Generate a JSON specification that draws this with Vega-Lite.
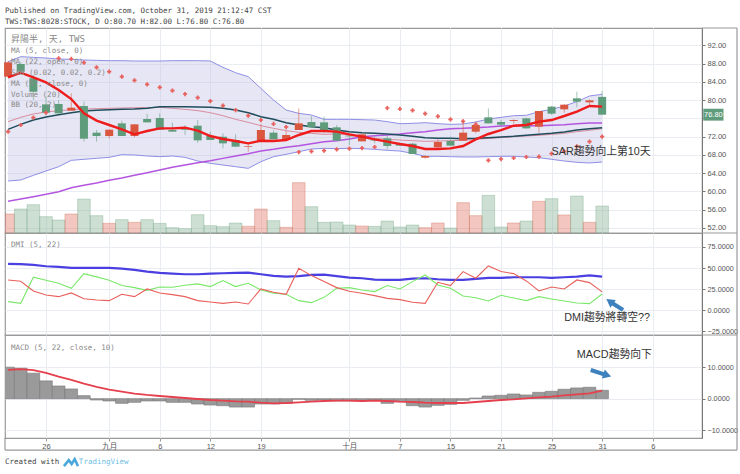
{"$schema":"https://vega.github.io/schema/vega-lite/v6.json","background":"white","padding":{"left":2,"top":7,"right":0,"bottom":0},"config":{"view":{"stroke":"#999999","strokeWidth":1.2}},
"title":{"text":["Published on TradingView.com, October 31, 2019 21:12:47 CST","TWS:TWS:8028:STOCK, D O:80.70 H:82.00 L:76.80 C:76.80"],"anchor":"start","font":"DejaVu Sans Mono","fontSize":7.5,"fontWeight":"normal","color":"#444444","lineHeight":11,"offset":1,"frame":"group"},
"datasets":{"bars":[
{"i":0,"o":85.13,"h":88.6,"l":84.8,"c":88.27,"vol":57,"ma5":84.98,"ma22":73.59,"bbb":75.27,"ma57":57.82,"bbu":88.41,"bbl":62.27,"sar":73.08,"adx":54.99,"pdi":36.0,"mdi":10.3,"hist":10.0,"sig":9.15},
{"i":1,"o":87.9,"h":88.4,"l":85.6,"c":86.22,"vol":72,"ma5":86.0,"ma22":74.68,"bbb":76.22,"ma57":58.33,"bbu":89.51,"bbl":62.49,"sar":74.54,"adx":54.6,"pdi":34.4,"mdi":8.3,"hist":9.68,"sig":9.36},
{"i":2,"o":84.76,"h":85.49,"l":80.01,"c":81.84,"vol":85,"ma5":84.98,"ma22":75.63,"bbb":76.95,"ma57":58.84,"bbu":89.36,"bbl":63.51,"sar":76.14,"adx":53.8,"pdi":22.9,"mdi":39.2,"hist":8.09,"sig":9.04},
{"i":3,"o":79.06,"h":80.74,"l":76.73,"c":77.24,"vol":49,"ma5":83.88,"ma22":76.29,"bbb":77.39,"ma57":59.35,"bbu":89.21,"bbl":64.46,"sar":77.24,"adx":52.2,"pdi":18.2,"mdi":35.6,"hist":5.64,"sig":8.19},
{"i":4,"o":79.14,"h":80.01,"l":77.09,"c":77.09,"vol":39,"ma5":82.2,"ma22":76.8,"bbb":77.68,"ma57":59.93,"bbu":89.0,"bbl":65.41,"sar":89.14,"adx":51.4,"pdi":16.2,"mdi":32.0,"hist":4.04,"sig":7.02},
{"i":5,"o":77.68,"h":81.47,"l":77.68,"c":78.33,"vol":57,"ma5":80.23,"ma22":77.24,"bbb":77.9,"ma57":60.81,"bbu":88.92,"bbl":66.8,"sar":89.0,"adx":50.2,"pdi":20.6,"mdi":26.1,"hist":3.09,"sig":5.96},
{"i":6,"o":78.7,"h":79.65,"l":70.89,"c":71.54,"vol":102,"ma5":77.09,"ma22":77.6,"bbb":78.04,"ma57":61.32,"bbu":88.78,"bbl":67.02,"sar":88.19,"adx":50.2,"pdi":13.8,"mdi":43.5,"hist":0.96,"sig":4.79},
{"i":7,"o":72.86,"h":73.44,"l":70.89,"c":72.13,"vol":52,"ma5":75.49,"ma22":77.75,"bbb":78.12,"ma57":61.83,"bbu":88.7,"bbl":67.24,"sar":87.17,"adx":50.2,"pdi":12.3,"mdi":39.6,"hist":-0.43,"sig":3.72},
{"i":8,"o":72.13,"h":73.59,"l":71.62,"c":73.51,"vol":29,"ma5":74.54,"ma22":77.9,"bbb":78.19,"ma57":62.42,"bbu":88.63,"bbl":67.45,"sar":86.22,"adx":50.2,"pdi":11.5,"mdi":35.6,"hist":-0.74,"sig":2.87},
{"i":9,"o":74.9,"h":75.49,"l":72.13,"c":72.13,"vol":40,"ma5":73.59,"ma22":77.97,"bbb":78.26,"ma57":62.93,"bbu":88.63,"bbl":68.04,"sar":85.13,"adx":49.45,"pdi":19.0,"mdi":29.3,"hist":-1.49,"sig":2.23},
{"i":10,"o":72.13,"h":74.76,"l":71.84,"c":74.68,"vol":32,"ma5":72.49,"ma22":78.04,"bbb":78.34,"ma57":63.51,"bbu":88.56,"bbl":67.97,"sar":84.32,"adx":47.9,"pdi":16.2,"mdi":26.9,"hist":-1.17,"sig":1.6},
{"i":11,"o":75.85,"h":76.95,"l":75.12,"c":75.12,"vol":40,"ma5":73.22,"ma22":78.19,"bbb":78.34,"ma57":64.1,"bbu":88.56,"bbl":67.75,"sar":83.45,"adx":45.9,"pdi":25.3,"mdi":23.7,"hist":-0.74,"sig":1.17},
{"i":12,"o":76.07,"h":77.09,"l":73.51,"c":73.51,"vol":29,"ma5":73.81,"ma22":78.55,"bbb":78.41,"ma57":64.68,"bbu":88.56,"bbl":67.6,"sar":82.79,"adx":44.3,"pdi":20.6,"mdi":27.7,"hist":-0.74,"sig":0.85},
{"i":13,"o":73.44,"h":75.05,"l":73.08,"c":73.08,"vol":16,"ma5":73.81,"ma22":78.55,"bbb":78.19,"ma57":65.26,"bbu":88.63,"bbl":67.75,"sar":82.06,"adx":43.5,"pdi":18.6,"mdi":27.3,"hist":-1.17,"sig":0.53},
{"i":14,"o":73.65,"h":74.54,"l":72.35,"c":73.5,"vol":13,"ma5":73.95,"ma22":78.55,"bbb":77.97,"ma57":65.77,"bbu":88.63,"bbl":67.45,"sar":81.33,"adx":42.7,"pdi":16.2,"mdi":29.7,"hist":-1.17,"sig":0.21},
{"i":15,"o":74.39,"h":75.63,"l":70.67,"c":71.18,"vol":55,"ma5":73.3,"ma22":78.48,"bbb":77.68,"ma57":66.28,"bbu":88.63,"bbl":66.65,"sar":80.53,"adx":42.7,"pdi":11.5,"mdi":31.3,"hist":-1.7,"sig":-0.11},
{"i":16,"o":72.13,"h":73.08,"l":71.25,"c":71.25,"vol":22,"ma5":72.13,"ma22":78.41,"bbb":77.24,"ma57":66.72,"bbu":88.56,"bbl":66.14,"sar":79.79,"adx":43.5,"pdi":9.9,"mdi":28.1,"hist":-2.02,"sig":-0.43},
{"i":17,"o":71.98,"h":72.71,"l":69.43,"c":70.52,"vol":19,"ma5":71.47,"ma22":78.19,"bbb":76.58,"ma57":67.23,"bbu":87.17,"bbl":65.77,"sar":78.77,"adx":43.9,"pdi":8.3,"mdi":35.2,"hist":-2.23,"sig":-0.64},
{"i":18,"o":71.25,"h":72.49,"l":69.79,"c":69.79,"vol":30,"ma5":71.03,"ma22":77.82,"bbb":75.78,"ma57":67.75,"bbu":86.0,"bbl":65.41,"sar":77.82,"adx":44.3,"pdi":9.9,"mdi":28.1,"hist":-2.66,"sig":-0.85},
{"i":19,"o":69.79,"h":70.67,"l":68.7,"c":69.94,"vol":20,"ma5":70.52,"ma22":77.24,"bbb":75.12,"ma57":68.26,"bbu":85.13,"bbl":65.04,"sar":76.58,"adx":44.7,"pdi":7.5,"mdi":32.0,"hist":-2.66,"sig":-0.96},
{"i":20,"o":70.89,"h":74.76,"l":70.89,"c":73.44,"vol":72,"ma5":71.1,"ma22":76.36,"bbb":74.39,"ma57":68.84,"bbu":82.57,"bbl":66.5,"sar":75.63,"adx":42.7,"pdi":25.3,"mdi":24.1,"hist":-1.7,"sig":-1.28},
{"i":21,"o":72.86,"h":73.4,"l":71.4,"c":71.4,"vol":37,"ma5":71.03,"ma22":75.78,"bbb":73.81,"ma57":69.21,"bbu":80.01,"bbl":67.6,"sar":74.76,"adx":40.7,"pdi":21.4,"mdi":20.2,"hist":-1.7,"sig":-1.49},
{"i":22,"o":71.25,"h":73.22,"l":71.25,"c":72.35,"vol":17,"ma5":71.25,"ma22":75.05,"bbb":73.3,"ma57":69.65,"bbu":77.82,"bbl":68.11,"sar":74.1,"adx":40.0,"pdi":19.0,"mdi":19.0,"hist":-1.49,"sig":-1.38},
{"i":23,"o":73.44,"h":78.19,"l":73.44,"c":74.9,"vol":151,"ma5":72.35,"ma22":74.54,"bbb":72.93,"ma57":70.01,"bbu":77.09,"bbl":68.7,"sar":68.62,"adx":40.4,"pdi":49.8,"mdi":11.5,"hist":-0.21,"sig":-1.17},
{"i":24,"o":75.19,"h":76.51,"l":74.03,"c":74.03,"vol":79,"ma5":73.22,"ma22":74.17,"bbb":72.71,"ma57":70.45,"bbu":76.73,"bbl":69.28,"sar":68.77,"adx":41.9,"pdi":41.1,"mdi":9.1,"hist":-0.53,"sig":-0.96},
{"i":25,"o":75.12,"h":76.36,"l":72.7,"c":73.22,"vol":32,"ma5":73.22,"ma22":73.95,"bbb":72.49,"ma57":70.89,"bbu":75.78,"bbl":69.43,"sar":68.91,"adx":42.3,"pdi":34.0,"mdi":15.4,"hist":-0.43,"sig":-0.74},
{"i":26,"o":74.03,"h":74.54,"l":71.11,"c":71.11,"vol":33,"ma5":73.08,"ma22":73.44,"bbb":72.57,"ma57":71.11,"bbu":75.78,"bbl":69.36,"sar":69.21,"adx":40.4,"pdi":26.9,"mdi":26.1,"hist":-0.74,"sig":-0.64},
{"i":27,"o":72.2,"h":72.71,"l":70.16,"c":72.05,"vol":24,"ma5":72.49,"ma22":73.08,"bbb":72.35,"ma57":71.47,"bbu":75.78,"bbl":69.43,"sar":69.35,"adx":38.8,"pdi":22.5,"mdi":26.9,"hist":-0.74,"sig":-0.64},
{"i":28,"o":70.96,"h":72.7,"l":70.96,"c":72.49,"vol":21,"ma5":71.98,"ma22":72.86,"bbb":71.98,"ma57":71.98,"bbu":75.71,"bbl":69.36,"sar":69.5,"adx":38.0,"pdi":20.2,"mdi":24.1,"hist":-0.74,"sig":-0.74},
{"i":29,"o":71.35,"h":72.0,"l":70.52,"c":71.15,"vol":20,"ma5":71.4,"ma22":72.71,"bbb":71.62,"ma57":72.2,"bbu":75.63,"bbl":69.21,"sar":69.72,"adx":36.4,"pdi":17.4,"mdi":22.2,"hist":-0.43,"sig":-0.64},
{"i":30,"o":71.62,"h":72.13,"l":69.21,"c":69.94,"vol":36,"ma5":70.89,"ma22":72.57,"bbb":71.4,"ma57":72.35,"bbu":75.27,"bbl":68.99,"sar":78.26,"adx":36.0,"pdi":14.2,"mdi":29.3,"hist":-1.49,"sig":-0.74},
{"i":31,"o":70.38,"h":70.7,"l":70.01,"c":70.01,"vol":18,"ma5":70.38,"ma22":72.35,"bbb":71.25,"ma57":72.57,"bbu":74.83,"bbl":68.84,"sar":78.05,"adx":36.0,"pdi":12.7,"mdi":25.3,"hist":-0.96,"sig":-0.96},
{"i":32,"o":70.45,"h":70.67,"l":68.19,"c":68.19,"vol":24,"ma5":69.94,"ma22":72.06,"bbb":71.11,"ma57":72.86,"bbu":74.9,"bbl":68.33,"sar":77.75,"adx":37.6,"pdi":9.5,"mdi":34.0,"hist":-2.23,"sig":-1.06},
{"i":33,"o":67.38,"h":67.97,"l":67.16,"c":67.75,"vol":16,"ma5":69.28,"ma22":71.77,"bbb":70.96,"ma57":73.08,"bbu":75.05,"bbl":67.68,"sar":77.02,"adx":38.0,"pdi":8.3,"mdi":41.9,"hist":-2.66,"sig":-1.28},
{"i":34,"o":69.65,"h":71.4,"l":69.06,"c":70.81,"vol":30,"ma5":69.28,"ma22":71.62,"bbb":71.03,"ma57":73.44,"bbu":74.83,"bbl":67.68,"sar":76.44,"adx":36.8,"pdi":33.2,"mdi":30.1,"hist":-2.13,"sig":-1.38},
{"i":35,"o":71.03,"h":72.0,"l":70.01,"c":70.01,"vol":15,"ma5":69.43,"ma22":71.62,"bbb":71.11,"ma57":73.74,"bbu":74.68,"bbl":67.6,"sar":75.78,"adx":36.0,"pdi":29.3,"mdi":26.1,"hist":-1.81,"sig":-1.38},
{"i":36,"o":71.11,"h":75.78,"l":71.11,"c":72.86,"vol":91,"ma5":69.94,"ma22":71.55,"bbb":71.18,"ma57":73.81,"bbu":74.76,"bbl":67.53,"sar":75.34,"adx":36.0,"pdi":45.9,"mdi":17.0,"hist":-0.53,"sig":-1.38},
{"i":37,"o":73.08,"h":75.27,"l":72.71,"c":74.54,"vol":52,"ma5":71.4,"ma22":71.62,"bbb":71.4,"ma57":73.96,"bbu":75.2,"bbl":67.53,"sar":74.68,"adx":37.2,"pdi":38.0,"mdi":15.0,"hist":0.21,"sig":-1.06},
{"i":38,"o":76.22,"h":78.19,"l":74.9,"c":74.9,"vol":113,"ma5":72.57,"ma22":71.77,"bbb":71.62,"ma57":74.1,"bbu":75.85,"bbl":67.6,"sar":66.8,"adx":38.4,"pdi":52.6,"mdi":11.1,"hist":0.85,"sig":-0.74},
{"i":39,"o":75.2,"h":75.63,"l":74.17,"c":74.61,"vol":18,"ma5":73.44,"ma22":71.91,"bbb":71.77,"ma57":74.32,"bbu":76.22,"bbl":67.68,"sar":67.09,"adx":38.4,"pdi":45.9,"mdi":17.8,"hist":1.06,"sig":-0.43},
{"i":40,"o":75.42,"h":75.78,"l":74.9,"c":75.63,"vol":30,"ma5":74.39,"ma22":72.06,"bbb":71.98,"ma57":74.39,"bbu":76.58,"bbl":67.68,"sar":67.31,"adx":39.2,"pdi":43.5,"mdi":14.6,"hist":1.49,"sig":-0.21},
{"i":41,"o":76.0,"h":76.15,"l":73.66,"c":73.81,"vol":36,"ma5":74.54,"ma22":72.28,"bbb":72.13,"ma57":74.39,"bbu":76.66,"bbl":67.53,"sar":67.53,"adx":39.2,"pdi":34.8,"mdi":11.5,"hist":1.17,"sig":0.11},
{"i":42,"o":74.17,"h":77.6,"l":72.86,"c":77.6,"vol":95,"ma5":75.27,"ma22":72.49,"bbb":72.28,"ma57":74.39,"bbu":77.46,"bbl":67.38,"sar":67.6,"adx":39.2,"pdi":22.9,"mdi":16.2,"hist":2.02,"sig":0.43},
{"i":43,"o":78.56,"h":78.7,"l":76.73,"c":77.02,"vol":103,"ma5":75.63,"ma22":72.71,"bbb":72.49,"ma57":74.47,"bbu":77.97,"bbl":67.02,"sar":68.26,"adx":38.4,"pdi":27.7,"mdi":13.5,"hist":2.34,"sig":0.64},
{"i":44,"o":77.97,"h":79.14,"l":77.24,"c":78.99,"vol":54,"ma5":76.51,"ma22":73.0,"bbb":72.71,"ma57":74.61,"bbu":78.7,"bbl":66.65,"sar":68.77,"adx":39.2,"pdi":25.3,"mdi":11.1,"hist":2.98,"sig":1.06},
{"i":45,"o":80.38,"h":81.84,"l":78.41,"c":79.65,"vol":111,"ma5":77.46,"ma22":73.44,"bbb":73.08,"ma57":74.83,"bbu":79.65,"bbl":66.36,"sar":69.87,"adx":40.0,"pdi":36.0,"mdi":8.7,"hist":3.4,"sig":1.38},
{"i":46,"o":79.5,"h":80.16,"l":78.7,"c":79.94,"vol":32,"ma5":78.7,"ma22":73.74,"bbb":73.37,"ma57":74.98,"bbu":80.89,"bbl":66.22,"sar":70.89,"adx":41.5,"pdi":32.8,"mdi":7.9,"hist":3.62,"sig":1.7},
{"i":47,"o":80.7,"h":82.0,"l":76.8,"c":76.8,"vol":81,"ma5":78.56,"ma22":73.96,"bbb":73.74,"ma57":74.98,"bbu":81.26,"bbl":66.43,"sar":71.98,"adx":40.0,"pdi":21.8,"mdi":19.4,"hist":2.66,"sig":2.55}
],
"mainLabels":[{"i":0.23,"v":90.75,"t":"MA (5, close, 0)"},{"i":0.23,"v":88.34,"t":"MA (22, open, 0)"},{"i":0.23,"v":85.93,"t":"SAR (0.02, 0.02, 0.2)"},{"i":0.23,"v":83.5,"t":"MA (57, close, 0)"},{"i":0.23,"v":81.1,"t":"Volume (20)"},{"i":0.23,"v":78.9,"t":"BB (20, 2)"}],
"mainFrame":[{"i":54.9,"i2":57.67,"v":95.79,"v2":95.79},{"i":54.9,"i2":57.67,"v":50.88,"v2":50.88},{"i":57.67,"i2":57.67,"v":95.79,"v2":50.88}],
"dmiFrame":[{"i":54.9,"i2":57.67,"v":-29.2,"v2":-29.2},{"i":57.67,"i2":57.67,"v":91.56,"v2":-29.2}],
"macdFrame":[{"i":57.67,"i2":57.67,"v":20.2,"v2":-16.3},{"i":-0.244,"i2":57.67,"v":-16.3,"v2":-16.3},{"i":-0.244,"i2":-0.244,"v":-12.48,"v2":-16.3}]},
"bounds":"flush","spacing":0,
"vconcat":[
{"width":697,"height":205,
"encoding":{"x":{"field":"i","type":"quantitative","scale":{"domain":[-0.244,54.9],"nice":false,"zero":false,"padding":0},"axis":{"values":[3,8,12,16,20,27,31,35,39,43,47,51],"labels":false,"ticks":false,"domain":false,"title":null,"grid":true,"gridColor":"#e9edf2"}}},
"layer":[
{"data":{"name":"bars"},"mark":{"type":"bar","orient":"vertical","size":12.6,"clip":true,"fillOpacity":0.4,"strokeWidth":0.7,"strokeOpacity":0.55},"encoding":{"y":{"field":"vol","type":"quantitative","scale":{"domain":[0,615],"nice":false,"zero":true},"axis":null},"fill":{"condition":{"test":"datum.c>=datum.o","value":"#e0705f"},"value":"#7fb08f"},"stroke":{"condition":{"test":"datum.c>=datum.o","value":"#d0705f"},"value":"#7fa88f"}}},
{"layer":[
{"data":{"name":"bars"},"mark":{"type":"area","color":"#c4c4e4","opacity":0.42},"encoding":{"y":{"field":"bbu","type":"quantitative","scale":{"domain":[50.88,95.79],"nice":false,"zero":false},"axis":{"orient":"right","values":[52,56,60,64,68,72,76,80,84,88,92],"tickCount":20,"labelExpr":"datum.value==76?'':format(datum.value,'.2f')","title":null,"grid":true,"gridColor":"#e9edf2","domainColor":"#777777","tickColor":"#777777","tickSize":3,"labelFont":"Liberation Sans","labelFontSize":7.5,"labelColor":"#555555","labelPadding":2}},"y2":{"field":"bbl"}}},
{"data":{"name":"bars"},"mark":{"type":"line","color":"#8f8fe6","strokeWidth":1},"encoding":{"y":{"field":"bbu","type":"quantitative","axis":{"title":null}}}},
{"data":{"name":"bars"},"mark":{"type":"line","color":"#8f8fe6","strokeWidth":1},"encoding":{"y":{"field":"bbl","type":"quantitative","axis":{"title":null}}}},
{"data":{"name":"bars"},"mark":{"type":"line","color":"#d98d9e","strokeWidth":1},"encoding":{"y":{"field":"bbb","type":"quantitative","axis":{"title":null}}}},
{"data":{"name":"bars"},"mark":{"type":"line","color":"#b455e0","strokeWidth":1.5},"encoding":{"y":{"field":"ma57","type":"quantitative","axis":{"title":null}}}},
{"data":{"name":"bars"},"mark":{"type":"line","color":"#1f4d5c","strokeWidth":1.5},"encoding":{"y":{"field":"ma22","type":"quantitative","axis":{"title":null}}}},
{"data":{"name":"bars"},"mark":{"type":"rule","strokeWidth":0.8,"opacity":0.7},"encoding":{"y":{"field":"h","type":"quantitative","axis":{"title":null}},"y2":{"field":"l"},"color":{"condition":{"test":"datum.c>=datum.o","value":"#d9573f"},"value":"#5f9c7c"}}},
{"data":{"name":"bars"},"mark":{"type":"bar","orient":"vertical","size":8},"encoding":{"y":{"field":"o","type":"quantitative","axis":{"title":null}},"y2":{"field":"c"},"color":{"condition":{"test":"datum.c>=datum.o","value":"#d9573f"},"value":"#5f9c7c"}}},
{"data":{"name":"bars"},"mark":{"type":"line","color":"#ee1c1c","strokeWidth":2.4},"encoding":{"y":{"field":"ma5","type":"quantitative","axis":{"title":null}}}},
{"data":{"name":"bars"},"mark":{"type":"point","shape":"cross","filled":true,"size":18,"color":"#e8605c","opacity":1},"encoding":{"y":{"field":"sar","type":"quantitative","axis":{"title":null}}}},
{"data":{"values":[{"i":0.23,"v":93.3,"t":"昇陽半, 天, TWS"}]},"mark":{"type":"text","align":"left","baseline":"middle","font":"DejaVu Sans Mono, Noto Sans CJK TC","fontSize":9,"color":"#8a8a8a"},"encoding":{"y":{"field":"v","type":"quantitative","axis":{"title":null}},"text":{"field":"t"}}},
{"data":{"name":"mainLabels"},"mark":{"type":"text","align":"left","baseline":"middle","font":"DejaVu Sans Mono","fontSize":7.5,"color":"#8a8a8a"},"encoding":{"y":{"field":"v","type":"quantitative","axis":{"title":null}},"text":{"field":"t"}}},
{"data":{"values":[{"i":43,"v":68.7,"t":"SAR趨勢向上第10天"}]},"mark":{"type":"text","align":"left","baseline":"middle","font":"Liberation Sans, Noto Sans CJK TC","fontSize":10.8,"color":"#333333"},"encoding":{"y":{"field":"v","type":"quantitative","axis":{"title":null}},"text":{"field":"t"}}},
{"data":{"values":[{"i":55.0,"i2":56.6,"v":78.1,"v2":75.5}]},"mark":{"type":"rect","color":"#5f9c7c"},"encoding":{"x2":{"field":"i2"},"y":{"field":"v","type":"quantitative","axis":{"title":null}},"y2":{"field":"v2"}}},
{"data":{"values":[{"i":55.8,"v":76.8,"t":"76.80"}]},"mark":{"type":"text","align":"center","baseline":"middle","font":"Liberation Sans","fontSize":7.5,"color":"#ffffff"},"encoding":{"y":{"field":"v","type":"quantitative","axis":{"title":null}},"text":{"field":"t"}}}
]},
{"data":{"name":"mainFrame"},"mark":{"type":"rule","color":"#999999","strokeWidth":1.2},"encoding":{"x2":{"field":"i2"},"y":{"field":"v","type":"quantitative","scale":{"domain":[50.88,95.79],"nice":false,"zero":false},"axis":null},"y2":{"field":"v2"}}}
],"resolve":{"scale":{"y":"independent"}}},
{"width":697,"height":102,
"encoding":{"x":{"field":"i","type":"quantitative","scale":{"domain":[-0.244,54.9],"nice":false,"zero":false,"padding":0},"axis":{"values":[3,8,12,16,20,27,31,35,39,43,47,51],"labels":false,"ticks":false,"domain":false,"title":null,"grid":true,"gridColor":"#e9edf2"}}},
"layer":[
{"data":{"name":"bars"},"mark":{"type":"line","color":"#4a3fe0","strokeWidth":2.2},"encoding":{"y":{"field":"adx","type":"quantitative","scale":{"domain":[-29.2,91.56],"nice":false,"zero":false},"axis":{"orient":"right","values":[-25,0,25,50,75],"tickCount":20,"format":".4f","title":null,"grid":true,"gridColor":"#e9edf2","domainColor":"#777777","tickColor":"#777777","tickSize":3,"labelFont":"Liberation Sans","labelFontSize":7.3,"labelColor":"#555555","labelPadding":2}}}},
{"data":{"name":"bars"},"mark":{"type":"line","color":"#7be86a","strokeWidth":1.1},"encoding":{"y":{"field":"mdi","type":"quantitative","axis":{"title":null}}}},
{"data":{"name":"bars"},"mark":{"type":"line","color":"#e8605c","strokeWidth":1.1},"encoding":{"y":{"field":"pdi","type":"quantitative","axis":{"title":null}}}},
{"data":{"values":[{"i":0.23,"v":77.3,"t":"DMI (5, 22)"}]},"mark":{"type":"text","align":"left","baseline":"middle","font":"DejaVu Sans Mono","fontSize":7.5,"color":"#8a8a8a"},"encoding":{"y":{"field":"v","type":"quantitative","axis":{"title":null}},"text":{"field":"t"}}},
{"data":{"values":[{"i":44,"v":-9,"t":"DMI趨勢將轉空??"}]},"mark":{"type":"text","align":"left","baseline":"middle","font":"Liberation Sans, Noto Sans CJK TC","fontSize":10.8,"color":"#333333"},"encoding":{"y":{"field":"v","type":"quantitative","axis":{"title":null}},"text":{"field":"t"}}},
{"data":{"values":[{"i":48.66,"i2":47.6,"v":0.4,"v2":10.5}]},"mark":{"type":"rule","color":"#3d82bd","strokeWidth":4},"encoding":{"x2":{"field":"i2"},"y":{"field":"v","type":"quantitative","axis":{"title":null}},"y2":{"field":"v2"}}},
{"data":{"values":[{"i":47.6,"v":10.5}]},"mark":{"type":"point","shape":"triangle-up","filled":true,"size":90,"color":"#3d82bd","opacity":1,"angle":-55},"encoding":{"y":{"field":"v","type":"quantitative","axis":{"title":null}}}},
{"data":{"name":"dmiFrame"},"mark":{"type":"rule","color":"#999999","strokeWidth":1.2},"encoding":{"x2":{"field":"i2"},"y":{"field":"v","type":"quantitative","axis":{"title":null}},"y2":{"field":"v2"}}}
]},
{"width":697,"height":103,
"encoding":{"x":{"field":"i","type":"quantitative","scale":{"domain":[-0.244,54.9],"nice":false,"zero":false,"padding":0},"axis":{"values":[3,8,12,16,20,27,31,35,39,43,47,51],"labelExpr":"{'3':'26','8':'九月','12':'6','16':'12','20':'19','27':'十月','31':'7','35':'15','39':'21','43':'25','47':'31','51':'6'}[datum.value]","title":null,"grid":true,"gridColor":"#e9edf2","domain":false,"tickColor":"#999999","tickSize":3,"labelFont":"Liberation Sans, Noto Sans CJK TC","labelFontSize":7.5,"labelColor":"#555555","labelPadding":1,"labelFlush":false,"labelOverlap":false}}},
"layer":[
{"data":{"name":"bars"},"mark":{"type":"bar","orient":"vertical","size":12.6,"clip":true,"color":"#9a9a9a","stroke":"#777777","strokeWidth":0.6},"encoding":{"y":{"field":"hist","type":"quantitative","scale":{"domain":[-12.48,20.2],"nice":false,"zero":false},"axis":{"orient":"right","values":[-10,0,10],"tickCount":20,"format":".4f","title":null,"grid":true,"gridColor":"#e9edf2","domainColor":"#777777","tickColor":"#777777","tickSize":3,"labelFont":"Liberation Sans","labelFontSize":7.3,"labelColor":"#555555","labelPadding":2}},"y2":{"datum":0}}},
{"data":{"name":"bars"},"mark":{"type":"line","color":"#e5404e","strokeWidth":1.8},"encoding":{"y":{"field":"sig","type":"quantitative","axis":{"title":null}}}},
{"data":{"values":[{"i":0.23,"v":16.2,"t":"MACD (5, 22, close, 10)"}]},"mark":{"type":"text","align":"left","baseline":"middle","font":"DejaVu Sans Mono","fontSize":7.5,"color":"#8a8a8a"},"encoding":{"y":{"field":"v","type":"quantitative","axis":{"title":null}},"text":{"field":"t"}}},
{"data":{"values":[{"i":45,"v":13.9,"t":"MACD趨勢向下"}]},"mark":{"type":"text","align":"left","baseline":"middle","font":"Liberation Sans, Noto Sans CJK TC","fontSize":10.8,"color":"#333333"},"encoding":{"y":{"field":"v","type":"quantitative","axis":{"title":null}},"text":{"field":"t"}}},
{"data":{"values":[{"i":46.1,"i2":47.4,"v":9.1,"v2":7.4}]},"mark":{"type":"rule","color":"#3d82bd","strokeWidth":4},"encoding":{"x2":{"field":"i2"},"y":{"field":"v","type":"quantitative","axis":{"title":null}},"y2":{"field":"v2"}}},
{"data":{"values":[{"i":47.4,"v":7.4}]},"mark":{"type":"point","shape":"triangle-up","filled":true,"size":90,"color":"#3d82bd","opacity":1,"angle":108},"encoding":{"y":{"field":"v","type":"quantitative","axis":{"title":null}}}},
{"data":{"values":[{"i":-0.244,"v":-20.1,"t":"Created with"}]},"mark":{"type":"text","align":"left","baseline":"middle","font":"DejaVu Sans Mono","fontSize":7.5,"color":"#444444"},"encoding":{"y":{"field":"v","type":"quantitative","axis":{"title":null}},"text":{"field":"t"}}},
{"data":{"values":[{"i":5.6,"v":-20.1,"t":"TradingView"}]},"mark":{"type":"text","align":"left","baseline":"middle","font":"DejaVu Sans Mono","fontSize":7.5,"color":"#6fc0e4"},"encoding":{"y":{"field":"v","type":"quantitative","axis":{"title":null}},"text":{"field":"t"}}},
{"data":{"values":[{"i":4.42,"v":-21.4},{"i":4.8,"v":-19.5},{"i":5.03,"v":-20.7},{"i":5.27,"v":-19.2},{"i":5.53,"v":-21.4}]},"mark":{"type":"line","color":"#4aa8dc","strokeWidth":2.6},"encoding":{"y":{"field":"v","type":"quantitative","axis":{"title":null}}}},
{"data":{"name":"macdFrame"},"mark":{"type":"rule","color":"#999999","strokeWidth":1.2},"encoding":{"x2":{"field":"i2"},"y":{"field":"v","type":"quantitative","axis":{"title":null}},"y2":{"field":"v2"}}}
]}
]}
